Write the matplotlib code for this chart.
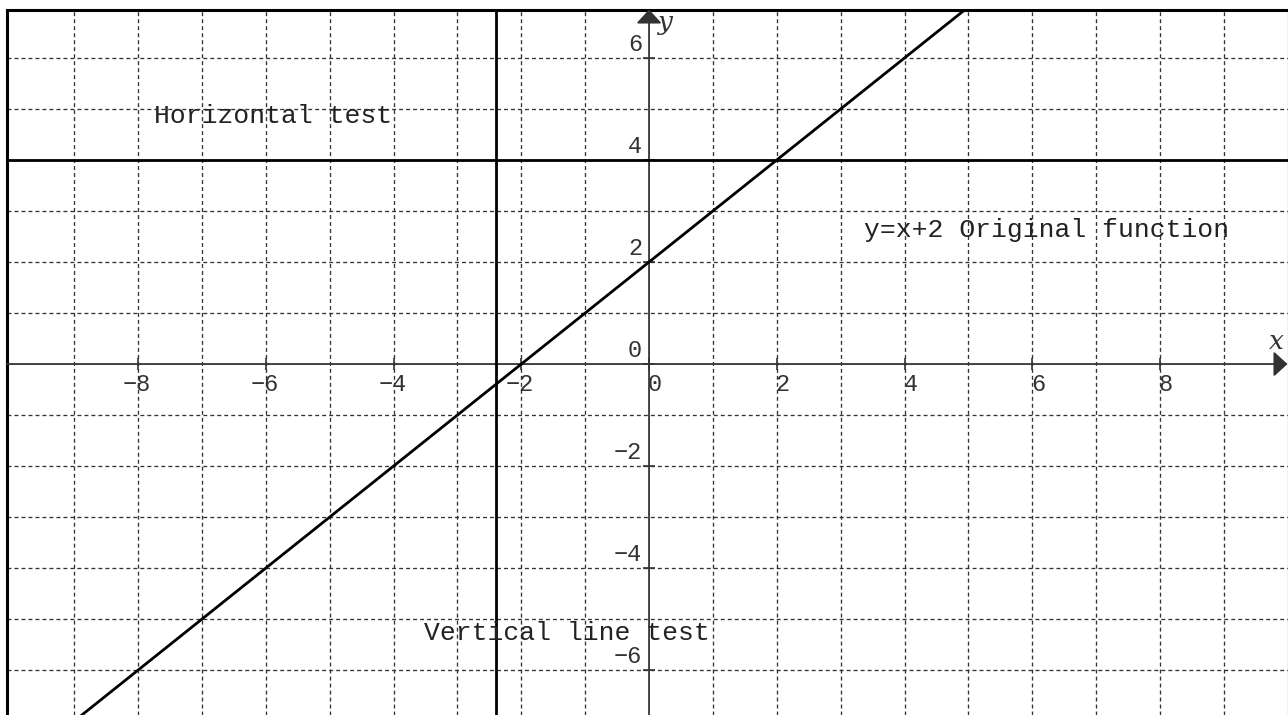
import matplotlib
matplotlib.use("Agg")
import matplotlib.pyplot as plt
from matplotlib import transforms

# data
x_ticks = [-8, -6, -4, -2, 0, 2, 4, 6, 8]
y_ticks = [-6, -4, -2, 0, 2, 4, 6]
grid_x = [-9, -8, -7, -6, -5, -4, -3, -2, -1, 1, 2, 3, 4, 5, 6, 7, 8, 9]
grid_y = [-6, -5, -4, -3, -2, -1, 1, 2, 3, 4, 5, 6]
func_x = [-10.5, 5.5]
func_y = [-8.5, 7.5]
horizontal_y = 4
vertical_x = -2.4
labels = ["Horizontal test", "y=x+2 Original function", "Vertical line test"]
label_x = [-7.75, 3.36, -3.52]
label_y = [4.72, 2.49, -5.41]

W, H = 1288, 715
x0, x1 = -10.06, 9.996
y0, y1 = -6.88, 6.95

mono = ["Liberation Mono", "DejaVu Sans Mono"]
gray = "#333333"

fig = plt.figure(figsize=(W / 100, H / 100), dpi=100)
ax = fig.add_axes([6.5 / W, 0, (1287.5 - 6.5) / W, (H - 9.5) / H])
ax.set_xlim(x0, x1)
ax.set_ylim(y0, y1)
ax.set_xticks([])
ax.set_yticks([])
ax.spines["bottom"].set_visible(False)
ax.spines["left"].set_linewidth(2.2)
ax.spines["top"].set_linewidth(2.2)
ax.spines["right"].set_linewidth(0.8)

for gx in grid_x:
    ax.axvline(gx, color=gray, lw=0.95, dashes=(3.0, 2.3), zorder=1)
for gy in grid_y:
    ax.axhline(gy, color=gray, lw=0.95, dashes=(3.0, 2.3), zorder=1)

# axes with arrows
ax.annotate("", xy=(x1, 0), xytext=(x0, 0), xycoords="data",
            arrowprops=dict(arrowstyle="-|>,head_length=0.85,head_width=0.78",
                            mutation_scale=10, color=gray, lw=1.3,
                            shrinkA=0, shrinkB=0), annotation_clip=False)
ax.annotate("", xy=(0, y1), xytext=(0, y0), xycoords="data",
            arrowprops=dict(arrowstyle="-|>,head_length=0.85,head_width=0.78",
                            mutation_scale=10, color=gray, lw=1.3,
                            shrinkA=0, shrinkB=0), annotation_clip=False)

# tick marks
ax.plot(x_ticks, [0] * len(x_ticks), ls="none", marker="|", ms=8, mew=1.2, color=gray)
ax.plot([0] * len(y_ticks), y_ticks, ls="none", marker="_", ms=8, mew=1.2, color=gray)

# tick labels
for tx in x_ticks:
    off = transforms.offset_copy(ax.transData, fig=fig, x=13 * 0.72, y=-27 * 0.72, units="points")
    ax.text(tx, 0, str(tx).replace("-", "\u2212"), transform=off, ha="right", va="baseline",
            family=mono, fontsize=17, color=gray)
for ty in y_ticks:
    off = transforms.offset_copy(ax.transData, fig=fig, x=-7 * 0.72, y=7 * 0.72, units="points")
    ax.text(0, ty, str(ty).replace("-", "\u2212"), transform=off, ha="right", va="baseline",
            family=mono, fontsize=17, color=gray)

# axis names
ax.text(0.14, 6.55, "y", family="DejaVu Serif", style="italic", fontsize=19, color=gray)
ax.text(9.7, 0.3, "x", family="DejaVu Serif", style="italic", fontsize=19, color=gray,
        clip_on=False)

# function and test lines
ax.plot(func_x, func_y, color="black", lw=2.0, zorder=3)
ax.axhline(horizontal_y, color="black", lw=2.0, zorder=3)
ax.axvline(vertical_x, color="black", lw=2.0, zorder=3)

for txt, lx, ly in zip(labels, label_x, label_y):
    ax.text(lx, ly, txt, ha="left", va="baseline", family=mono, fontsize=19, color="#222222")

fig.savefig("out.png", dpi=100)
